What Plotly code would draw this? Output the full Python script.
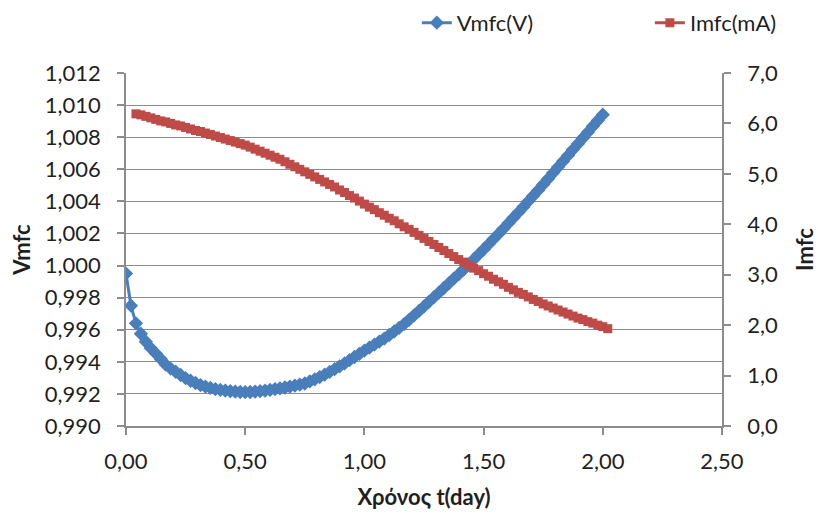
import plotly.graph_objects as go

# time in days (30-minute sampling)
time_day = [0.0000, 0.0208, 0.0417, 0.0625, 0.0833, 0.1042, 0.1250, 0.1458, 0.1667, 0.1875,
            0.2083, 0.2292, 0.2500, 0.2708, 0.2917, 0.3125, 0.3333, 0.3542, 0.3750, 0.3958,
            0.4167, 0.4375, 0.4583, 0.4792, 0.5000, 0.5208, 0.5417, 0.5625, 0.5833, 0.6042,
            0.6250, 0.6458, 0.6667, 0.6875, 0.7083, 0.7292, 0.7500, 0.7708, 0.7917, 0.8125,
            0.8333, 0.8542, 0.8750, 0.8958, 0.9167, 0.9375, 0.9583, 0.9792, 1.0000, 1.0208,
            1.0417, 1.0625, 1.0833, 1.1042, 1.1250, 1.1458, 1.1667, 1.1875, 1.2083, 1.2292,
            1.2500, 1.2708, 1.2917, 1.3125, 1.3333, 1.3542, 1.3750, 1.3958, 1.4167, 1.4375,
            1.4583, 1.4792, 1.5000, 1.5208, 1.5417, 1.5625, 1.5833, 1.6042, 1.6250, 1.6458,
            1.6667, 1.6875, 1.7083, 1.7292, 1.7500, 1.7708, 1.7917, 1.8125, 1.8333, 1.8542,
            1.8750, 1.8958, 1.9167, 1.9375, 1.9583, 1.9792, 2.0000, 2.0208]

t_vmfc = time_day[0:97]
vmfc = [0.99950, 0.99750, 0.99640, 0.99575, 0.99525, 0.99485, 0.99452, 0.99418, 0.99382, 0.99358,
        0.99338, 0.99318, 0.99298, 0.99282, 0.99268, 0.99255, 0.99245, 0.99237, 0.99230, 0.99225,
        0.99221, 0.99217, 0.99214, 0.99212, 0.99211, 0.99212, 0.99214, 0.99217, 0.99221, 0.99225,
        0.99230, 0.99235, 0.99240, 0.99246, 0.99252, 0.99258, 0.99265, 0.99278, 0.99291, 0.99305,
        0.99320, 0.99337, 0.99354, 0.99372, 0.99390, 0.99410, 0.99430, 0.99450, 0.99470, 0.99488,
        0.99507, 0.99526, 0.99545, 0.99567, 0.99589, 0.99612, 0.99635, 0.99662, 0.99690, 0.99717,
        0.99745, 0.99774, 0.99803, 0.99831, 0.99860, 0.99889, 0.99918, 0.99946, 0.99975, 1.00006,
        1.00038, 1.00069, 1.00100, 1.00132, 1.00165, 1.00197, 1.00230, 1.00264, 1.00298, 1.00331,
        1.00365, 1.00400, 1.00435, 1.00470, 1.00505, 1.00541, 1.00578, 1.00614, 1.00650, 1.00686,
        1.00723, 1.00759, 1.00795, 1.00831, 1.00868, 1.00904, 1.00940]

t_imfc = time_day[2:98]
imfc = [6.19, 6.17, 6.14, 6.11, 6.08, 6.05, 6.03, 6.00, 5.97, 5.95,
        5.92, 5.89, 5.86, 5.84, 5.81, 5.78, 5.75, 5.72, 5.69, 5.66,
        5.63, 5.60, 5.57, 5.53, 5.49, 5.45, 5.41, 5.37, 5.33, 5.29,
        5.24, 5.19, 5.14, 5.09, 5.04, 4.99, 4.94, 4.89, 4.84, 4.79,
        4.74, 4.68, 4.63, 4.57, 4.52, 4.46, 4.40, 4.34, 4.29, 4.23,
        4.18, 4.12, 4.07, 4.01, 3.95, 3.90, 3.84, 3.78, 3.72, 3.66,
        3.60, 3.54, 3.48, 3.42, 3.36, 3.30, 3.25, 3.19, 3.13, 3.08,
        3.02, 2.97, 2.91, 2.86, 2.81, 2.75, 2.70, 2.65, 2.61, 2.56,
        2.51, 2.47, 2.42, 2.38, 2.34, 2.30, 2.26, 2.22, 2.18, 2.14,
        2.11, 2.07, 2.04, 2.00, 1.97, 1.93]

BLUE = "#4A7EBB"
RED = "#BE4B48"
GRID = "#8C8C8C"
FONT = "Lato"
TXT = "#1f1f1f"

fig = go.Figure()
fig.add_trace(go.Scatter(
    x=t_vmfc, y=vmfc, name="Vmfc(V)", mode="lines+markers",
    line=dict(color=BLUE, width=3),
    marker=dict(symbol="diamond", size=11, color=BLUE),
    yaxis="y", legend="legend",
))
fig.add_trace(go.Scatter(
    x=t_imfc, y=imfc, name="Imfc(mA)", mode="lines+markers",
    line=dict(color=RED, width=3),
    marker=dict(symbol="square", size=9, color=RED),
    yaxis="y2", legend="legend2",
))

legend_common = dict(orientation="h", xanchor="left", yanchor="middle", y=1.142,
                     font=dict(family=FONT, size=22, color=TXT),
                     bgcolor="rgba(0,0,0,0)")

fig.update_layout(
    width=818, height=515,
    margin=dict(l=126, r=96, t=73, b=89, autoexpand=False),
    paper_bgcolor="white", plot_bgcolor="white",
    separators=", ",
    font=dict(family=FONT, size=22, color=TXT),
    showlegend=True,
    legend=dict(x=0.488, **legend_common),
    legend2=dict(x=0.879, **legend_common),
    xaxis=dict(
        range=[0, 2.5], dtick=0.5, tick0=0, tickformat=".2f",
        showgrid=False, zeroline=False, automargin=False,
        showline=True, linecolor=GRID, linewidth=1.5,
        ticks="outside", ticklen=7, tickcolor=GRID, tickwidth=1.5,
        ticklabelstandoff=8,
        title=dict(text="<b>Χρόνος t(day)</b>", font=dict(family=FONT, size=22), standoff=16),
    ),
    yaxis=dict(
        range=[0.990, 1.012], dtick=0.002, tick0=0.990, tickformat=".3f",
        showgrid=True, gridcolor=GRID, gridwidth=1.2, zeroline=False, automargin=False,
        showline=True, linecolor=GRID, linewidth=1.5,
        ticks="outside", ticklen=7, tickcolor=GRID, tickwidth=1.5,
        ticklabelstandoff=12,
        title=dict(text="<b>Vmfc</b>", font=dict(family=FONT, size=22), standoff=8),
    ),
    yaxis2=dict(
        range=[0, 7], dtick=1, tick0=0, tickformat=".1f",
        overlaying="y", side="right", automargin=False,
        showgrid=False, zeroline=False,
        showline=True, linecolor=GRID, linewidth=1.5,
        ticks="outside", ticklen=7, tickcolor=GRID, tickwidth=1.5,
        ticklabelstandoff=12,
        title=dict(text="<b>Imfc</b>", font=dict(family=FONT, size=22), standoff=26),
    ),
)

fig.write_html("out.html")
